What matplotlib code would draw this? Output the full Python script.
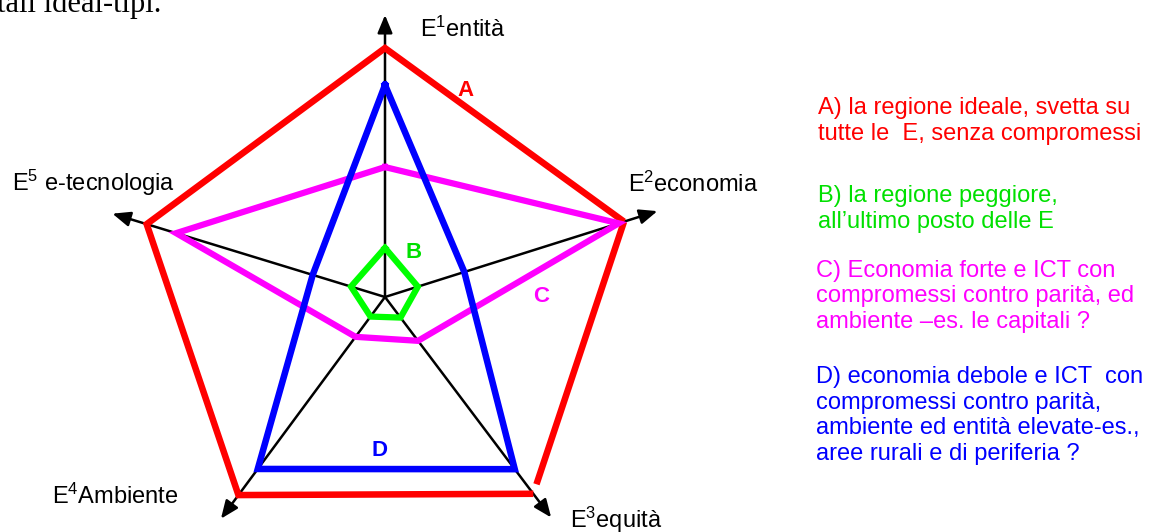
import numpy as np
import matplotlib
matplotlib.use("Agg")
import matplotlib.pyplot as plt

plt.rcParams.update({
    "font.family":      ["Liberation Sans", "DejaVu Sans"],
    "mathtext.fontset": "custom",
    "mathtext.rm":      "Liberation Sans",
    "mathtext.default": "regular",
})

# Dati (scala 0-10)
assi           = ["E$^1$entità", "E$^2$economia", "E$^3$equità", "E$^4$Ambiente", "E$^5$ e-tecnologia"]
lunghezza_assi = [10.07, 10.2, 9.86, 9.85, 10.18]
regione_A      = [8.89, 8.95, 8.8, 8.8, 8.9]
regione_B      = [1.75, 1.23, 0.92, 0.87, 1.27]
regione_C      = [4.64, 8.75, 1.96, 1.77, 7.8]
regione_D      = [7.57, 2.97, 7.7, 7.64, 2.7]
sigle          = ["A", "B", "C", "D"]
descrizioni    = [
    "A) la regione ideale, svetta su\ntutte le  E, senza compromessi",
    "B) la regione peggiore,\nall\u2019ultimo posto delle E",
    "C) Economia forte e ICT con\ncompromessi contro parità, ed\nambiente \u2013es. le capitali ?",
    "D) economia debole e ICT  con\ncompromessi contro parità,\nambiente ed entità elevate-es.,\naree rurali e di periferia ?",
]

# Layout
W, H = 1151, 532
CX, CY = 385, 297          # centro del radar in pixel
PX_UNIT = 28               # pixel per unità
RMAX = 10.5
angoli = np.deg2rad([90, 17.5, -53, -126.5, 163])
colori = ["#FF0000", "#00FF00", "#FF00FF", "#0000FF"]
colori_testo = ["#FF0000", "#00E000", "#FF00FF", "#0000FF"]

fig = plt.figure(figsize=(W / 100, H / 100), dpi=100)
R = RMAX * PX_UNIT
ax = fig.add_axes([(CX - R) / W, (H - CY - R) / H, 2 * R / W, 2 * R / H], projection="polar")
ax.set_ylim(0, RMAX)
ax.set_axis_off()

# assi con freccia
for ang, L in zip(angoli, lunghezza_assi):
    ax.annotate("", xy=(ang, L), xytext=(0, 0),
                arrowprops=dict(arrowstyle="-|>,head_length=0.6,head_width=0.25",
                                color="black", lw=1.8, mutation_scale=18,
                                shrinkA=0, shrinkB=0), zorder=1)

def chiudi(vals):
    t = list(angoli) + [angoli[0]]
    r = list(vals) + [vals[0]]
    return t, r

# A: poligono con il lato E2-E3 interrotto prima del vertice
ordine = [2, 3, 4, 0, 1]
ax.plot([angoli[i] for i in ordine], [regione_A[i] for i in ordine],
        color=colori[0], lw=4.7, solid_joinstyle="miter", solid_capstyle="butt", zorder=2)
p2 = regione_A[1] * np.array([np.cos(angoli[1]), np.sin(angoli[1])])
p3 = regione_A[2] * np.array([np.cos(angoli[2]), np.sin(angoli[2])])
pf = p2 + 0.965 * (p3 - p2)
ax.plot([angoli[1], np.arctan2(pf[1], pf[0])], [regione_A[1], np.hypot(*pf)],
        color=colori[0], lw=4.7, solid_capstyle="butt", zorder=2)

t, r = chiudi(regione_C)
ax.plot(t, r, color=colori[2], lw=4.5, solid_joinstyle="miter", zorder=3)
t, r = chiudi(regione_D)
ax.plot(t, r, color=colori[3], lw=4.7, solid_joinstyle="miter", zorder=4)
t, r = chiudi(regione_B)
ax.plot(t, r, color=colori[1], lw=4.5, solid_joinstyle="miter", zorder=5)

# testi in coordinate pixel
tx = fig.add_axes([0, 0, 1, 1])
tx.set_xlim(0, W)
tx.set_ylim(H, 0)
tx.set_axis_off()

tx.text(-3, 12, "tali ideal-tipi.", family="Liberation Serif", fontsize=22, va="baseline")

pos_assi = [(420, 37), (628, 192), (570, 528), (52, 504), (12, 191)]
for lab, (x, y) in zip(assi, pos_assi):
    tx.text(x, y, lab, fontsize=17, va="baseline", ha="left")

pos_sigle = [(466, 90), (414, 252), (541, 296), (380, 450)]
for s, (x, y), c in zip(sigle, pos_sigle, colori_testo):
    tx.text(x, y, s, fontsize=16, fontweight="bold", color=c, ha="center", va="center")

# baseline dell'ultima riga di ogni blocco
pos_desc = [(818, 140), (818, 228), (816, 328), (816, 460)]
for d, (x, y), c in zip(descrizioni, pos_desc, colori_testo):
    tx.text(x, y, d, fontsize=17, color=c, va="baseline", ha="left", linespacing=1.22)

plt.savefig("out.png", dpi=100)
